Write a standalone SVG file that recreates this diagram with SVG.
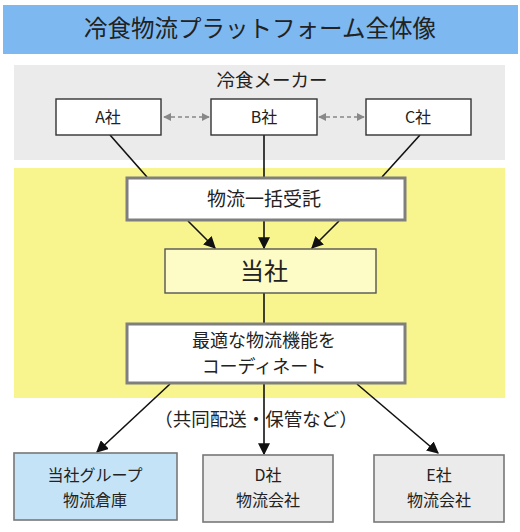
<svg xmlns="http://www.w3.org/2000/svg" width="520" height="532" viewBox="0 0 520 532">
<defs>
<style>
text{font-family:"Noto Sans CJK JP","Noto Sans",sans-serif;fill:#222;text-anchor:middle}
.maker{fill:#fff;stroke:#333;stroke-width:1.4}
.proc{fill:#fff;stroke:#7f7f7f;stroke-width:3}
.line{stroke:#111;stroke-width:1.6;fill:none}
.dash{stroke:#888;stroke-width:1.6;stroke-dasharray:4 3;fill:none}
</style>
<marker id="ahg" viewBox="0 0 10 10" refX="9" refY="5" markerWidth="8" markerHeight="8" orient="auto-start-reverse" markerUnits="userSpaceOnUse">
<path d="M0,0 L10,5 L0,10 z" fill="#888"/>
</marker>
<marker id="ahb" viewBox="0 0 10 10" refX="9" refY="5" markerWidth="12" markerHeight="12" orient="auto" markerUnits="userSpaceOnUse">
<path d="M0,0 L10,5 L0,10 z" fill="#111"/>
</marker>
</defs>
<rect width="520" height="532" fill="#fff"/>
<g id="title">
<rect x="3" y="5" width="515" height="49" fill="#7DB9F0"/>
<text x="260" y="37" font-size="23.5">冷食物流プラットフォーム全体像</text>
</g>
<g id="makers-panel">
<rect x="14" y="65" width="491" height="95" fill="#EBEBEB"/>
<text x="272" y="87" font-size="18.5">冷食メーカー</text>
</g>
<g id="platform-panel">
<rect x="14" y="168" width="491" height="230" fill="#F9F58E"/>
</g>
<g id="connectors">
<line class="dash" x1="164" y1="117" x2="209" y2="117" marker-start="url(#ahg)" marker-end="url(#ahg)"/>
<line class="dash" x1="319" y1="117" x2="364" y2="117" marker-start="url(#ahg)" marker-end="url(#ahg)"/>
<line class="line" x1="110" y1="135" x2="147" y2="177"/>
<line class="line" x1="264" y1="135" x2="264" y2="177"/>
<line class="line" x1="420" y1="135" x2="382" y2="177"/>
<line class="line" x1="188" y1="221" x2="215" y2="248" marker-end="url(#ahb)"/>
<line class="line" x1="264" y1="221" x2="264" y2="248" marker-end="url(#ahb)"/>
<line class="line" x1="339" y1="221" x2="312" y2="248" marker-end="url(#ahb)"/>
<line class="line" x1="264" y1="293" x2="264" y2="323"/>
<line class="line" x1="170" y1="384" x2="97" y2="452" marker-end="url(#ahb)"/>
<line class="line" x1="264" y1="384" x2="264" y2="454" marker-end="url(#ahb)"/>
<line class="line" x1="357" y1="384" x2="438" y2="453" marker-end="url(#ahb)"/>
<text x="256" y="426" font-size="18.5">（共同配送・保管など）</text>
</g>
<g id="node-a">
<rect class="maker" x="56" y="99" width="105" height="36"/>
<text x="108" y="123" font-size="16">A社</text>
</g>
<g id="node-b">
<rect class="maker" x="211" y="99" width="106" height="36"/>
<text x="264" y="123" font-size="16">B社</text>
</g>
<g id="node-c">
<rect class="maker" x="366" y="99" width="105" height="36"/>
<text x="418" y="123" font-size="16">C社</text>
</g>
<g id="node-ikkatsu">
<rect class="proc" x="127" y="178" width="278" height="42"/>
<text x="264" y="206" font-size="19">物流一括受託</text>
</g>
<g id="node-tosha">
<rect x="165" y="249" width="211" height="44" fill="#FDFBC6" stroke="#555" stroke-width="1.4"/>
<text x="264" y="280" font-size="24">当社</text>
</g>
<g id="node-coordinate">
<rect class="proc" x="127" y="324" width="278" height="59"/>
<text x="264" y="347" font-size="18">最適な物流機能を</text>
<text x="264" y="373" font-size="18">コーディネート</text>
</g>
<g id="node-group">
<rect x="14" y="453" width="163" height="67" fill="#C5E3F7" stroke="#777" stroke-width="1.6"/>
<text x="95" y="481" font-size="16">当社グループ</text>
<text x="95" y="506" font-size="16">物流倉庫</text>
</g>
<g id="node-d">
<rect x="203" y="455" width="130" height="67" fill="#EBEBEB" stroke="#777" stroke-width="1.6"/>
<text x="268" y="481" font-size="16">D社</text>
<text x="268" y="506" font-size="16">物流会社</text>
</g>
<g id="node-e">
<rect x="374" y="455" width="130" height="67" fill="#EBEBEB" stroke="#777" stroke-width="1.6"/>
<text x="439" y="481" font-size="16">E社</text>
<text x="439" y="506" font-size="16">物流会社</text>
</g>
</svg>
